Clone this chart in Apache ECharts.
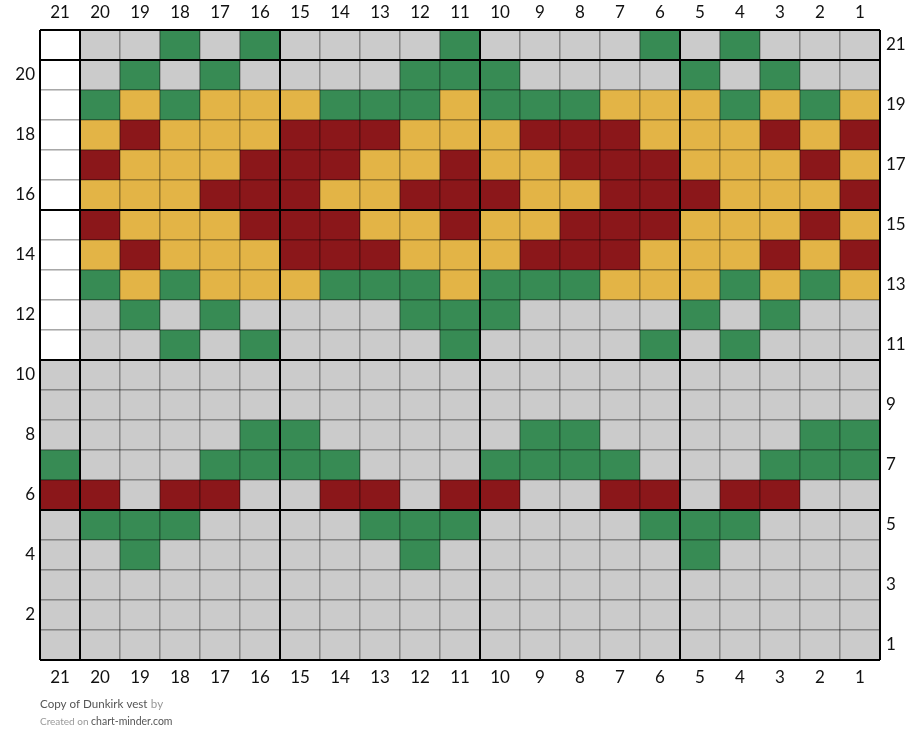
<!DOCTYPE html>
<html>
<head>
<meta charset="utf-8">
<title>Copy of Dunkirk vest</title>
<script src="https://cdn.jsdelivr.net/npm/echarts@6/dist/echarts.min.js"></script>
<style>
  html, body { margin: 0; padding: 0; background: #fff; }
  #chart { width: 920px; height: 753px; }
</style>
</head>
<body>
<div id="chart"></div>
<script>
// stitch numbers, left to right, and row numbers, bottom to top
var stitches = ['21','20','19','18','17','16','15','14','13','12','11','10','9','8','7','6','5','4','3','2','1'];
var rowNumbers = ['1','2','3','4','5','6','7','8','9','10','11','12','13','14','15','16','17','18','19','20','21'];

// W = no stitch, G = grey, N = green, Y = yellow, R = red
// one string per row, top row (21) first, stitch 21 -> 1
var chartRows = [
    'WGGNGNGGGGNGGGGNGNGGG', // 21
    'WGNGNGGGGNNNGGGGNGNGG', // 20
    'WNYNYYYNNNYNNNYYYNYNY', // 19
    'WYRYYYRRRYYYRRRYYYRYR', // 18
    'WRYYYRRRYYRYYRRRYYYRY', // 17
    'WYYYRRRYYRRRYYRRRYYYR', // 16
    'WRYYYRRRYYRYYRRRYYYRY', // 15
    'WYRYYYRRRYYYRRRYYYRYR', // 14
    'WNYNYYYNNNYNNNYYYNYNY', // 13
    'WGNGNGGGGNNNGGGGNGNGG', // 12
    'WGGNGNGGGGNGGGGNGNGGG', // 11
    'GGGGGGGGGGGGGGGGGGGGG', // 10
    'GGGGGGGGGGGGGGGGGGGGG', // 9
    'GGGGGNNGGGGGNNGGGGGNN', // 8
    'NGGGNNNNGGGNNNNGGGNNN', // 7
    'RRGRRGGRRGRRGGRRGRRGG', // 6
    'GNNNGGGGNNNGGGGNNNGGG', // 5
    'GGNGGGGGGNGGGGGGNGGGG', // 4
    'GGGGGGGGGGGGGGGGGGGGG', // 3
    'GGGGGGGGGGGGGGGGGGGGG', // 2
    'GGGGGGGGGGGGGGGGGGGGG'  // 1
];

var palette = {
    W : '#ffffff',
    G : '#cbcbcb',
    N : '#378b54',
    Y : '#e3b446',
    R : '#8b171a'
};

(function(){

    var cells = [];
    chartRows.forEach(function (row, r) {
        var y = chartRows.length - 1 - r;
        for (var x = 0; x < row.length; x++) {
            cells.push([x, y, row.charAt(x)]);
        }
    });

    function renderCell(params, api) {
        var c = api.coord([api.value(0), api.value(1)]);
        var s = api.size([1, 1]);
        return {
            type : 'rect',
            shape : { x : c[0] - s[0] / 2, y : c[1] - s[1] / 2, width : s[0], height : s[1] },
            style : { fill : palette[api.value(2)], stroke : 'rgba(0,0,0,0.38)', lineWidth : 1 }
        };
    }

    // heavy lines every 5 stitches / rows, counted from bottom right
    function renderMajor(params, api) {
        var s = api.size([1, 1]);
        var first = api.coord([0, 0]);
        var x0 = first[0] - s[0] / 2;
        var y0 = first[1] + s[1] / 2;
        var nx = stitches.length, ny = rowNumbers.length;
        var xl = x0, xr = x0 + nx * s[0], yb = y0, yt = y0 - ny * s[1];
        var lines = [];
        for (var i = 0; i <= nx; i++) {
            if (i === 0 || (nx - i) % 5 === 0) {
                var x = x0 + i * s[0];
                lines.push({ type : 'line', shape : { x1 : x, y1 : yt, x2 : x, y2 : yb },
                    style : { stroke : '#000', lineWidth : 2 } });
            }
        }
        for (var j = 0; j <= ny; j++) {
            if (j === ny || j % 5 === 0) {
                var y = y0 - j * s[1];
                lines.push({ type : 'line', shape : { x1 : xl, y1 : y, x2 : xr, y2 : y },
                    style : { stroke : '#000', lineWidth : 2 } });
            }
        }
        return { type : 'group', children : lines };
    }

    var labelStyle = { color : '#111', fontSize : 17, fontFamily : 'Lato' };

    function xAxisDef(pos) {
        return {
            type : 'category',
            position : pos,
            data : stitches,
            axisLine : { show : false },
            axisTick : { show : false },
            splitLine : { show : false },
            axisLabel : Object.assign({ margin : 9, interval : 0 }, labelStyle)
        };
    }

    function yAxisDef(pos, odd) {
        return {
            type : 'category',
            position : pos,
            data : rowNumbers,
            axisLine : { show : false },
            axisTick : { show : false },
            splitLine : { show : false },
            axisLabel : Object.assign({
                margin : pos === 'left' ? 5 : 6,
                interval : function (idx, val) { return (parseInt(val, 10) % 2 === 1) === odd; }
            }, labelStyle)
        };
    }

    var option = {
        animation : false,
        textStyle : { fontFamily : 'Lato' },
        grid : { left : 40, right : 40, top : 30, bottom : 93 },
        xAxis : [ xAxisDef('top'), xAxisDef('bottom') ],
        yAxis : [ yAxisDef('left', false), yAxisDef('right', true) ],
        series : [
            {
                type : 'custom',
                renderItem : renderCell,
                data : cells,
                xAxisIndex : 0,
                yAxisIndex : 0,
                z : 2
            },
            {
                type : 'custom',
                renderItem : renderMajor,
                data : [[0, 0]],
                xAxisIndex : 0,
                yAxisIndex : 0,
                silent : true,
                z : 3
            }
        ],
        graphic : [
            {
                type : 'text',
                left : 40,
                top : 698,
                style : {
                    text : '{a|Copy of Dunkirk vest} {b|by}',
                    rich : {
                        a : { fontFamily : 'Lato', fontSize : 11.6, fill : '#555' },
                        b : { fontFamily : 'Lato', fontSize : 11.6, fill : '#999' }
                    }
                }
            },
            {
                type : 'text',
                left : 40,
                top : 716,
                style : {
                    text : '{c|Created on }{d|chart-minder.com}',
                    rich : {
                        c : { fontFamily : 'Lato', fontSize : 10, fill : '#999' },
                        d : { fontFamily : 'Lato', fontSize : 10.5, fill : '#555' }
                    }
                }
            }
        ]
    };

// 初始化echarts实例
    var myChart = echarts.init(document.getElementById('chart'));
    myChart.setOption(option);

})();
</script>
</body>
</html>
